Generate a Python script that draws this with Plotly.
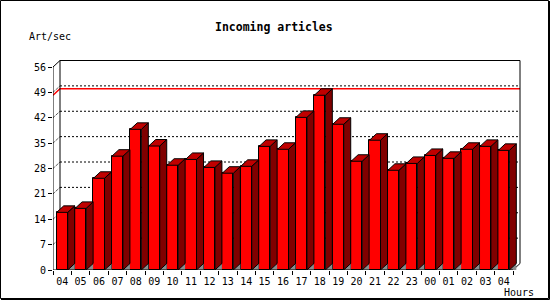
import plotly.graph_objects as go

hours = ["04", "05", "06", "07", "08", "09", "10", "11", "12", "13", "14", "15",
         "16", "17", "18", "19", "20", "21", "22", "23", "00", "01", "02", "03", "04"]
rate = [15.9, 17.0, 25.3, 31.4, 38.8, 34.2, 28.9, 30.5, 28.3, 26.7, 28.6, 34.1,
        33.3, 42.1, 48.2, 40.2, 30.0, 35.8, 27.5, 29.4, 31.6, 30.8, 33.3, 34.1, 33.0]
y_ticks = [0, 7, 14, 21, 28, 35, 42, 49, 56]
grid_vals = [7, 14, 21, 28, 35, 42, 49]
title = "Incoming articles"
y_title = "Art/sec"
x_title = "Hours"

W, H = 550, 300
ML, MR, MT, MB = 53, 29, 60, 30
PW, PH = W - ML - MR, H - MT - MB
CAT_PX = 18.4
Y_PX = 3.625
DX = 7 / CAT_PX
DY = 6.5 / Y_PX
BW = 0.6
n = len(rate)
idx = list(range(n))
x_lo = -0.5
x_hi = x_lo + PW / CAT_PX
y_hi = PH / Y_PX
xl, xr = -0.5, n - 0.5
ymax = y_ticks[-1]
peak = max(rate)

FONT = "DejaVu Sans Mono"


def px(x, y):
    return (x - ML) / PW, (H - MB - y) / PH


fig = go.Figure()

fig.add_trace(go.Bar(x=idx, y=rate, width=BW, marker=dict(color="#FF0000", line=dict(color="black", width=1)),
                     hoverinfo="skip"))

side_x, side_y, top_x, top_y, tri_x, tri_y = [], [], [], [], [], []
for i, v in zip(idx, rate):
    a = i + BW / 2
    b = i - BW / 2
    side_x += [a, a + DX, a + DX, a, a, None]
    side_y += [0, DY, v + DY, v, 0, None]
    top_x += [b, b + DX, a + DX, a, b, None]
    top_y += [v, v + DY, v + DY, v, v, None]
    tri_x += [a, a + DX, a + DX, a, None]
    tri_y += [0, DY, 0, 0, None]

fig.add_trace(go.Scatter(x=tri_x, y=tri_y, mode="lines", fill="toself", fillcolor="#8C8C8C",
                         line=dict(width=0), hoverinfo="skip"))
fig.add_trace(go.Scatter(x=side_x, y=side_y, mode="lines", fill="toself", fillcolor="#800000",
                         line=dict(color="black", width=1), hoverinfo="skip"))
fig.add_trace(go.Scatter(x=top_x, y=top_y, mode="lines", fill="toself", fillcolor="#C00000",
                         line=dict(color="black", width=1), hoverinfo="skip"))

shapes = []
# back-plane grid lines and wall marks
for v in grid_vals:
    shapes.append(dict(type="line", xref="x", yref="y", x0=xl + DX, x1=xr + DX, y0=v + DY, y1=v + DY,
                       line=dict(color="black", width=1, dash="2px,2px"), layer="below"))
    shapes.append(dict(type="line", xref="x", yref="y", x0=xl, x1=xl + DX, y0=v, y1=v + DY,
                       line=dict(color="black", width=1, dash="1px,1px"), layer="below"))
# peak line
shapes.append(dict(type="path", xref="x", yref="y",
                   path=f"M{xl},{peak} L{xl + DX},{peak + DY} L{xr + DX},{peak + DY}",
                   line=dict(color="#FF0000", width=1.5), layer="below"))
# back plane frame
shapes.append(dict(type="path", xref="x", yref="y",
                   path=f"M{xl},{ymax} L{xl + DX},{ymax + DY} L{xr + DX},{ymax + DY} L{xr + DX},{DY} L{xr},0",
                   line=dict(color="black", width=1), layer="below"))
shapes.append(dict(type="line", xref="x", yref="y", x0=xl + DX, x1=xl + DX, y0=DY, y1=ymax + DY,
                   line=dict(color="black", width=1), layer="below"))
# front axes
shapes.append(dict(type="line", xref="x", yref="y", x0=xl, x1=xl, y0=0, y1=ymax,
                   line=dict(color="black", width=1), layer="above"))
shapes.append(dict(type="line", xref="x", yref="y", x0=xl, x1=xr, y0=0, y1=0,
                   line=dict(color="black", width=1), layer="above"))
# image frame
x0, y0 = px(0.5, 0.5)
x1, y1 = px(548.5, 298.5)
shapes.append(dict(type="rect", xref="paper", yref="paper", x0=x0, x1=x1, y0=y0, y1=y1,
                   line=dict(color="black", width=1), layer="above"))
a0, b0 = px(549.5, 1)
a1, b1 = px(549.5, 299.5)
shapes.append(dict(type="line", xref="paper", yref="paper", x0=a0, x1=a1, y0=b0, y1=b1,
                   line=dict(color="black", width=1)))
c0, d0 = px(1, 299.5)
shapes.append(dict(type="line", xref="paper", yref="paper", x0=c0, x1=a1, y0=d0, y1=b1,
                   line=dict(color="black", width=1)))

ann = []
tx, ty = px(273.5, 27)
ann.append(dict(text=f"<b>{title}</b>", x=tx, y=ty, xref="paper", yref="paper", showarrow=False,
                xanchor="center", yanchor="middle", font=dict(family=FONT, size=11.5, color="black")))
ax, ay = px(50, 37)
ann.append(dict(text=y_title, x=ax, y=ay, xref="paper", yref="paper", showarrow=False,
                xanchor="center", yanchor="middle", font=dict(family=FONT, size=10, color="black")))
hx, hy = px(519, 292)
ann.append(dict(text=x_title, x=hx, y=hy, xref="paper", yref="paper", showarrow=False,
                xanchor="center", yanchor="middle", font=dict(family=FONT, size=10, color="black")))

fig.update_layout(
    width=W, height=H, margin=dict(l=ML, r=MR, t=MT, b=MB, pad=0),
    paper_bgcolor="white", plot_bgcolor="white", showlegend=False,
    shapes=shapes, annotations=ann, bargap=0,
    xaxis=dict(range=[x_lo, x_hi], tickmode="array", tickvals=idx, ticktext=hours, ticks="",
               showgrid=False, zeroline=False, showline=False, ticklabelstandoff=4,
               tickfont=dict(family=FONT, size=10, color="black"),
               minor=dict(tickmode="array", tickvals=[i - 0.5 for i in range(n + 1)], ticks="outside",
                          ticklen=4, tickcolor="black", tickwidth=1, showgrid=False)),
    yaxis=dict(range=[0, y_hi], tickmode="array", tickvals=y_ticks, ticktext=[str(t) for t in y_ticks],
               ticks="outside", ticklen=4, tickcolor="black", tickwidth=1,
               showgrid=False, zeroline=False, showline=False,
               tickfont=dict(family=FONT, size=10, color="black")),
)

fig.write_html("out.html")
